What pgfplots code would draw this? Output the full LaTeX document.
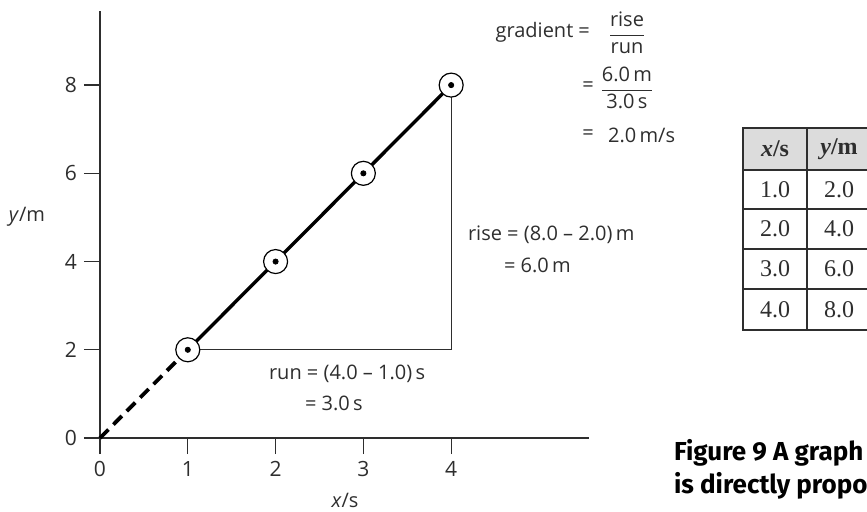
\documentclass[border=0pt]{standalone}
\usepackage{fontspec}
\usepackage{amsmath}
\usepackage{pgfplots}
\pgfplotsset{compat=1.18}
\setmainfont{Open Sans}
\newfontfamily\tabfont{Liberation Serif}
\newfontfamily\capfont{Fira Sans}
\definecolor{ink}{HTML}{2E2E2E}
\definecolor{hdr}{HTML}{DCDCDC}

\begin{document}
\begin{tikzpicture}[font=\fontsize{10}{12}\selectfont, text=ink]
\begin{axis}[
  at={(0,0)}, anchor=south west,
  scale only axis,
  width=244.5pt, height=213.5pt,
  xmin=0, xmax=5.57,
  ymin=0, ymax=9.68,
  axis lines*=left,
  axis line style={ink, line width=0.65pt},
  xtick={0,1,2,3,4},
  ytick={0,2,4,6,8},
  tick align=outside,
  major tick length=8pt,
  tick style={ink, line width=0.65pt},
  /pgf/number format/assume math mode=true,
  ticklabel style={font=\fontsize{10.5}{12}\selectfont, text=ink},
  clip=false,
]
% run and rise
\addplot[ink, line width=0.6pt] coordinates {(1,2) (4,2) (4,8)};
% extrapolation to the origin
\addplot[black, line width=1.9pt, dash pattern=on 6pt off 3.5pt] coordinates {(0,0) (0.9,1.8)};
% best-fit line
\addplot[black, line width=1.7pt] coordinates {(1,2) (2,4) (3,6) (4,8)};
% data points
\addplot[only marks, mark=*, mark size=6pt, mark options={fill=white, draw=black, line width=0.6pt}]
  coordinates {(1,2) (2,4) (3,6) (4,8)};
\addplot[only marks, mark=*, mark size=1.3pt, black]
  coordinates {(1,2) (2,4) (3,6) (4,8)};
\end{axis}

% pixel coordinates of the 867x511 picture, origin top left
\begin{scope}[shift={(-50pt,219pt)}, x={(0.5pt,0)}, y={(0,-0.5pt)}]
  \node at (27,217) {\textit{y}/m};
  \node at (345,500) {\textit{x}/s};

  \node[anchor=west] at (262,374) {run = (4.0 -- 1.0)\,s};
  \node[anchor=west] at (298,403) {= 3.0\,s};
  \node[anchor=west] at (461,235) {rise = (8.0 -- 2.0)\,m};
  \node[anchor=west] at (497,265) {= 6.0\,m};

  \node[anchor=east] at (597,32) {gradient =};
  \node at (627,33) {$\dfrac{\text{rise}}{\text{run}}$};
  \node at (588,87) {=};
  \node at (627,88) {$\dfrac{\text{6.0\,m}}{\text{3.0\,s}}$};
  \node at (588,135) {=};
  \node[anchor=west] at (601,135) {2.0\,m/s};

  \begin{scope}
    \clip (0,0) rectangle (867,511);
    % table
    \fill[hdr] (743,128) rectangle (871,170);
    \draw[ink, line width=0.6pt] (743,128) rectangle (871,330);
    \foreach \yy in {170,209,249,289} \draw[ink, line width=0.6pt] (743,\yy) -- (871,\yy);
    \draw[ink, line width=0.6pt] (807,128) -- (807,330);
    \begin{scope}[font=\tabfont\fontsize{12}{14}\selectfont]
      \node at (775,149) {\textbf{\textit{x}/s}};
      \node at (839,149) {\textbf{\textit{y}/m}};
      \node at (775,190) {1.0};  \node at (839,190) {2.0};
      \node at (775,229) {2.0};  \node at (839,229) {4.0};
      \node at (775,269) {3.0};  \node at (839,269) {6.0};
      \node at (775,310) {4.0};  \node at (839,310) {8.0};
    \end{scope}
    % caption, cut at the right edge as in the original page
    \node[anchor=base west, font=\capfont\bfseries\fontsize{13}{15}\selectfont, text=black]
      at (667,460) {Figure 9 A graph};
    \node[anchor=base west, font=\capfont\bfseries\fontsize{13}{15}\selectfont, text=black]
      at (667,493) {is directly proportional};
  \end{scope}

  \pgfresetboundingbox
  \path[use as bounding box] (0,0) rectangle (867,511);
\end{scope}
\end{tikzpicture}
\end{document}
